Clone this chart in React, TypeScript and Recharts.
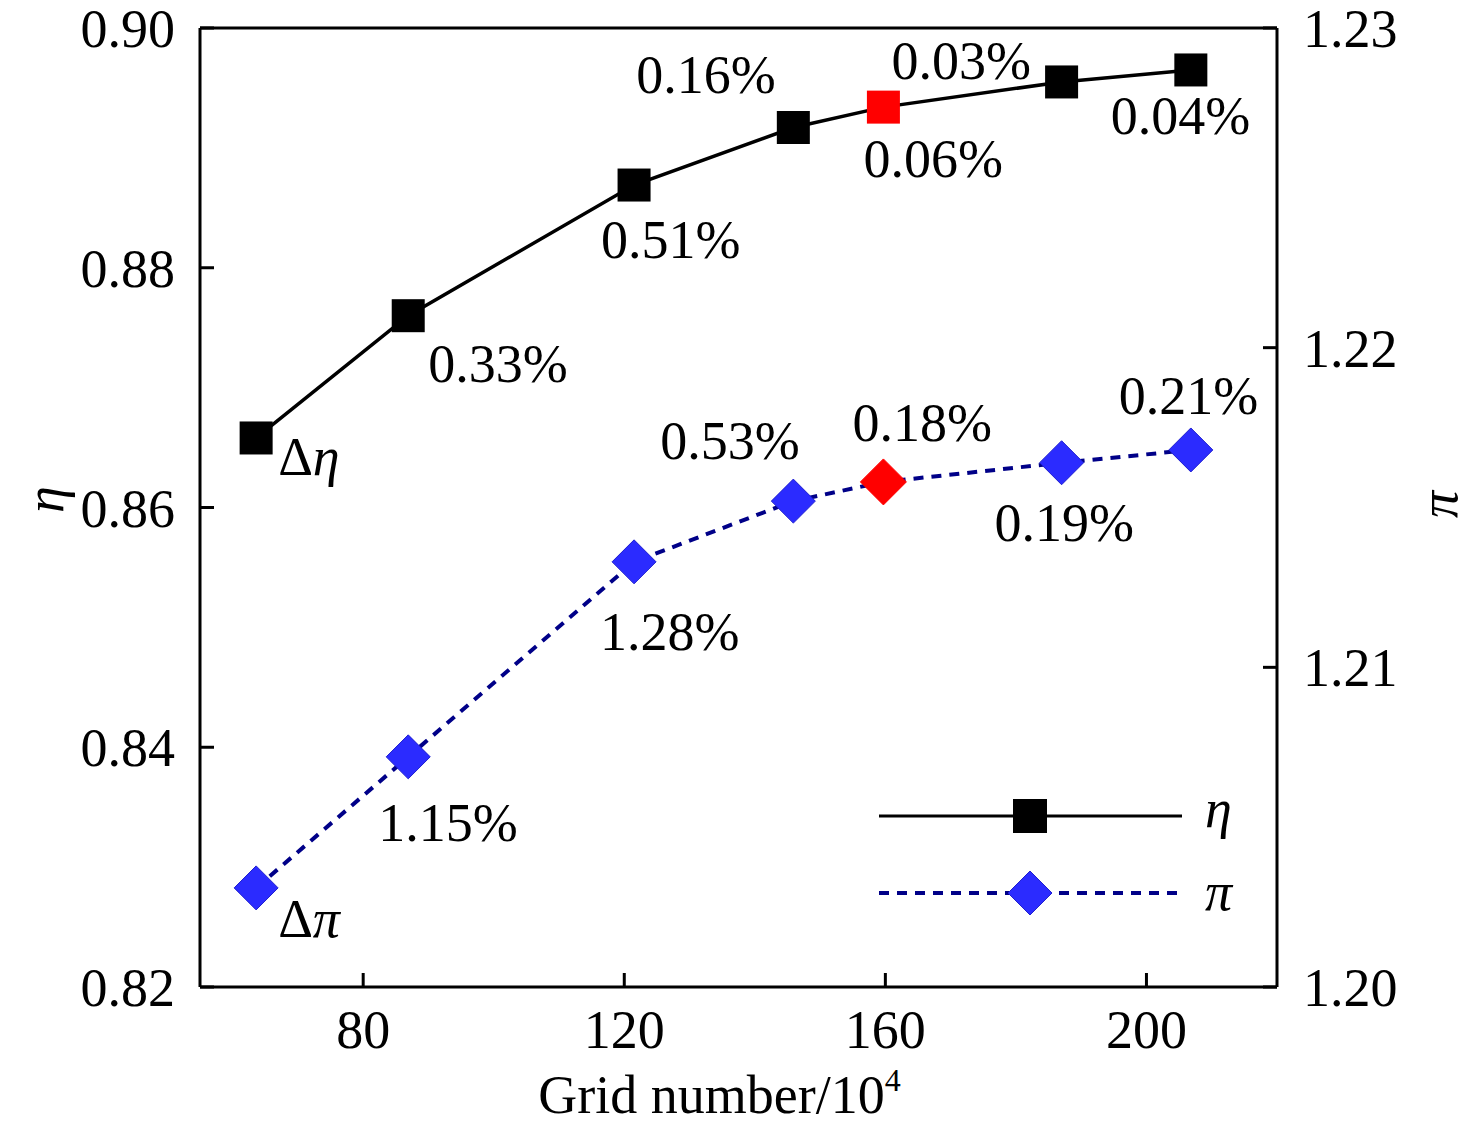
import { ComposedChart, Line, XAxis, YAxis, ReferenceLine, LabelList, Legend } from 'recharts';

// grid size (x 10^4) and the two monitored quantities
const gridNumber = [63.6, 86.9, 121.5, 145.9, 159.7, 187.0, 206.8];
const etaValues = [0.8658, 0.8760, 0.8869, 0.8917, 0.8934, 0.8955, 0.8965];
const piValues = [1.2031, 1.2072, 1.2133, 1.2152, 1.2158, 1.2164, 1.2168];

// relative change annotations
const etaLabels = ['Δη', '0.33%', '0.51%', '0.16%', '0.06%', '0.03%', '0.04%'];
const piLabels = ['Δπ', '1.15%', '1.28%', '0.53%', '0.18%', '0.19%', '0.21%'];

// mesh that was finally selected (drawn in red)
const selectedIndex = 4;

const xTicks = [80, 120, 160, 200];
const etaTicks = [0.82, 0.84, 0.86, 0.88, 0.9];
const piTicks = [1.2, 1.21, 1.22, 1.23];

const seriesNames = ['η', 'π'];

// label placement relative to the point: [dx to left edge, dy to baseline]
const etaLabelOffsets = [
    [22, 37], [20, 66], [-33, 73], [-157, -34], [-20, 70], [-170, -3], [-80, 64],
];
const piLabelOffsets = [
    [22, 49], [-30, 84], [-34, 88], [-133, -42], [-31, -41], [-67, 78], [-72, -36],
];

const data = gridNumber.map((g, i) => ({
    grid: g,
    eta: etaValues[i],
    pi: piValues[i],
    etaLabel: etaLabels[i],
    piLabel: piLabels[i],
}));

const FONT = '"Liberation Serif", "Times New Roman", serif';
const FS = 54;
const NAVY = '#000088';
const BLUE = '#2b2bff';

function AnnotText({ x, y, text }: { x: number; y: number; text: string }) {
    if (text.startsWith('Δ')) {
        return (
            <text x={x} y={y} fontFamily={FONT} fontSize={FS} fill="#000">
                <tspan>Δ</tspan>
                <tspan fontStyle="italic">{text.slice(1)}</tspan>
            </text>
        );
    }
    return (
        <text x={x} y={y} fontFamily={FONT} fontSize={FS} fill="#000">
            {text}
        </text>
    );
}

const makeLabel = (offsets: number[][]) => (props: any) => {
    const { x, y, index, value } = props;
    const [dx, dy] = offsets[index];
    return <AnnotText key={`lbl-${index}`} x={x + dx} y={y + dy} text={String(value)} />;
};

const squareDot = (props: any) => {
    const { cx, cy, index } = props;
    const s = 33;
    return (
        <rect
            key={`sq-${index}`}
            x={cx - s / 2}
            y={cy - s / 2}
            width={s}
            height={s}
            fill={index === selectedIndex ? '#ff0000' : '#000'}
        />
    );
};

const diamondDot = (props: any) => {
    const { cx, cy, index } = props;
    const red = index === selectedIndex;
    const r = red ? 23 : 22;
    return (
        <polygon
            key={`dm-${index}`}
            points={`${cx},${cy - r} ${cx + r},${cy} ${cx},${cy + r} ${cx - r},${cy}`}
            fill={red ? '#ff0000' : BLUE}
            stroke={red ? '#ff0000' : '#1f1fd0'}
            strokeWidth={1}
        />
    );
};

const leftTick = (props: any) => {
    const { x, y, payload } = props;
    return (
        <g>
            <line x1={x} y1={y} x2={x + 14} y2={y} stroke="#000" strokeWidth={3} />
            <text x={x - 25} y={y + 19} textAnchor="end" fontFamily={FONT} fontSize={FS} fill="#000">
                {payload.value.toFixed(2)}
            </text>
        </g>
    );
};

const rightTick = (props: any) => {
    const { x, y, payload } = props;
    return (
        <g>
            <line x1={x} y1={y} x2={x - 14} y2={y} stroke="#000" strokeWidth={3} />
            <text x={x + 26} y={y + 19} textAnchor="start" fontFamily={FONT} fontSize={FS} fill="#000">
                {payload.value.toFixed(2)}
            </text>
        </g>
    );
};

const bottomTick = (props: any) => {
    const { x, y, payload } = props;
    return (
        <g>
            <line x1={x} y1={y} x2={x} y2={y - 14} stroke="#000" strokeWidth={3} />
            <text x={x} y={y + 61} textAnchor="middle" fontFamily={FONT} fontSize={FS} fill="#000">
                {payload.value}
            </text>
        </g>
    );
};

const LegendBox = () => (
    <svg width={420} height={170}>
        <line x1={19} y1={46} x2={322} y2={46} stroke="#000" strokeWidth={3} />
        <rect x={153} y={29} width={34} height={34} fill="#000" />
        <text x={345} y={57} fontFamily={FONT} fontSize={FS} fontStyle="italic" fill="#000">
            {seriesNames[0]}
        </text>
        <line x1={19} y1={123} x2={322} y2={123} stroke={NAVY} strokeWidth={4} strokeDasharray="10 8" />
        <polygon points="170,101 192,123 170,145 148,123" fill={BLUE} stroke="#1f1fd0" strokeWidth={1} />
        <text x={345} y={140} fontFamily={FONT} fontSize={FS} fontStyle="italic" fill="#000">
            {seriesNames[1]}
        </text>
    </svg>
);

export default function App() {
    return (
        <div style={{ position: 'absolute', left: 0, top: 0, width: 1476, height: 1132, background: '#fff' }}>
            <ComposedChart width={1476} height={1132} data={data} margin={{ top: 28, right: 0, bottom: 0, left: 0 }}>
                <XAxis
                    dataKey="grid"
                    type="number"
                    domain={[55, 220]}
                    ticks={xTicks}
                    allowDataOverflow
                    height={145}
                    tickSize={0}
                    tickMargin={0}
                    tickLine={false}
                    axisLine={{ stroke: '#000', strokeWidth: 3 }}
                    tick={bottomTick}
                    label={(p: any) => {
                        const vb = p.viewBox;
                        return (
                            <text x={vb.x + vb.width / 2 - 19} y={1113} textAnchor="middle" fontFamily={FONT} fontSize={FS} fill="#000">
                                Grid number/10
                                <tspan fontSize={32} dy={-22}>4</tspan>
                            </text>
                        );
                    }}
                />
                <YAxis
                    yAxisId="eta"
                    orientation="left"
                    domain={[0.82, 0.9]}
                    ticks={etaTicks}
                    allowDataOverflow
                    width={200}
                    tickSize={0}
                    tickMargin={0}
                    tickLine={false}
                    axisLine={{ stroke: '#000', strokeWidth: 3 }}
                    tick={leftTick}
                    label={(p: any) => {
                        const vb = p.viewBox;
                        const cx = 45;
                        const cy = vb.y + vb.height / 2 - 8;
                        return (
                            <text x={cx} y={cy} transform={`rotate(-90, ${cx}, ${cy})`} textAnchor="middle" dominantBaseline="central" fontFamily={FONT} fontSize={FS} fontStyle="italic" fill="#000">
                                {seriesNames[0]}
                            </text>
                        );
                    }}
                />
                <YAxis
                    yAxisId="pi"
                    orientation="right"
                    domain={[1.2, 1.23]}
                    ticks={piTicks}
                    allowDataOverflow
                    width={199}
                    tickSize={0}
                    tickMargin={0}
                    tickLine={false}
                    axisLine={{ stroke: '#000', strokeWidth: 3 }}
                    tick={rightTick}
                    label={(p: any) => {
                        const vb = p.viewBox;
                        const cx = 1439;
                        const cy = vb.y + vb.height / 2 - 3;
                        return (
                            <text x={cx} y={cy} transform={`rotate(-90, ${cx}, ${cy})`} textAnchor="middle" dominantBaseline="central" fontFamily={FONT} fontSize={FS} fontStyle="italic" fill="#000">
                                {seriesNames[1]}
                            </text>
                        );
                    }}
                />
                <ReferenceLine yAxisId="eta" y={0.9} stroke="#000" strokeWidth={3} />
                <Legend
                    layout="vertical"
                    verticalAlign="middle"
                    align="center"
                    content={LegendBox}
                    wrapperStyle={{ position: 'absolute', left: 860, top: 770, width: 420, height: 170 }}
                />
                <Line
                    yAxisId="eta"
                    dataKey="eta"
                    name={seriesNames[0]}
                    type="linear"
                    stroke="#000"
                    strokeWidth={3.5}
                    dot={squareDot}
                    activeDot={false}
                    isAnimationActive={false}
                >
                    <LabelList dataKey="etaLabel" content={makeLabel(etaLabelOffsets)} />
                </Line>
                <Line
                    yAxisId="pi"
                    dataKey="pi"
                    name={seriesNames[1]}
                    type="linear"
                    stroke={NAVY}
                    strokeWidth={4}
                    strokeDasharray="10 8"
                    dot={diamondDot}
                    activeDot={false}
                    isAnimationActive={false}
                >
                    <LabelList dataKey="piLabel" content={makeLabel(piLabelOffsets)} />
                </Line>
            </ComposedChart>
        </div>
    );
}
